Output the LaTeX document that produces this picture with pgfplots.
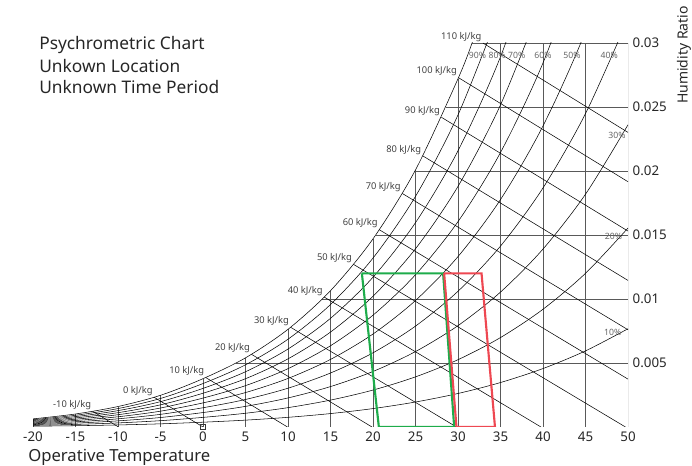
\documentclass[border=0pt]{standalone}
\usepackage{fontspec}
\setmainfont{Noto Sans}
\usepackage{pgfplots}
\pgfplotsset{compat=1.18}

\definecolor{zonegreen}{RGB}{30,172,75}
\definecolor{zonered}{RGB}{238,72,82}

\tikzset{
  hlabel/.style={anchor=south east, inner sep=1pt, font=\fontsize{7}{8}\selectfont, text=black!75},
  rhlabel/.style={inner sep=0pt, font=\fontsize{6.5}{7}\selectfont, text=black!60},
}
\pgfplotsset{grid line/.style={black!65, line width=0.5pt}}

\begin{document}
\begin{tikzpicture}
\useasboundingbox (-24.75pt,-29.25pt) rectangle (494.25pt,320.25pt);
\begin{axis}[
  at={(0,0)}, anchor=south west,
  scale only axis,
  width=446.25pt, height=288pt,
  xmin=-20, xmax=50, ymin=0, ymax=0.03,
  axis line style={draw=none},
  tick style={draw=none},
  scaled ticks=false,
  xtick={-20,-15,-10,-5,0,5,10,15,20,25,30,35,40,45,50},
  xticklabels={-20,-15,-10,-5,0,5,10,15,20,25,30,35,40,45,50},
  ytick={0.005,0.01,0.015,0.02,0.025,0.03},
  yticklabels={0.005,0.01,0.015,0.02,0.025,0.03},
  yticklabel pos=right,
  ticklabel style={font=\fontsize{10}{12}\selectfont, text=black!85},
  clip mode=individual,
  every axis plot/.append style={line width=0.4pt},
]
% temperature grid (up to saturation)
\addplot[grid line] coordinates {(-20,0) (-20,0.000635)};
\addplot[grid line] coordinates {(-15,0) (-15,0.001016)};
\addplot[grid line] coordinates {(-10,0) (-10,0.001600)};
\addplot[grid line] coordinates {(-5,0) (-5,0.002476)};
\addplot[grid line] coordinates {(0,0) (0,0.003775)};
\addplot[grid line] coordinates {(5,0) (5,0.005403)};
\addplot[grid line] coordinates {(10,0) (10,0.007632)};
\addplot[grid line] coordinates {(15,0) (15,0.010650)};
\addplot[grid line] coordinates {(20,0) (20,0.014699)};
\addplot[grid line] coordinates {(25,0) (25,0.020086)};
\addplot[grid line] coordinates {(30,0) (30,0.027210)};
\addplot[grid line] coordinates {(35,0) (35,0.03)};
\addplot[grid line] coordinates {(40,0) (40,0.03)};
\addplot[grid line] coordinates {(45,0) (45,0.03)};
\addplot[grid line] coordinates {(50,0) (50,0.03)};
% humidity ratio grid (from dew point)
\addplot[grid line] coordinates {(-20,0) (50,0)};
\addplot[grid line] coordinates {(3.90,0.005) (50,0.005)};
\addplot[grid line] coordinates {(14.04,0.01) (50,0.01)};
\addplot[grid line] coordinates {(20.31,0.015) (50,0.015)};
\addplot[grid line] coordinates {(24.93,0.02) (50,0.02)};
\addplot[grid line] coordinates {(28.59,0.025) (50,0.025)};
\addplot[grid line] coordinates {(31.63,0.03) (50,0.03)};

% relative humidity curves
\addplot[black, smooth] coordinates {(-20,0.000635) (-15,0.001016) (-10,0.001600) (-5,0.002476) (0,0.003775) (5,0.005403) (10,0.007632) (15,0.010650) (20,0.014699) (25,0.020086) (30,0.027210) (32,0.030655) (35,0.036584)};
\addplot[black, smooth] coordinates {(-20,0.000571) (-15,0.000915) (-10,0.001440) (-5,0.002228) (0,0.003395) (5,0.004859) (10,0.006860) (15,0.009569) (20,0.013198) (25,0.018019) (30,0.024382) (35,0.032733)};
\addplot[black, smooth] coordinates {(-20,0.000508) (-15,0.000813) (-10,0.001279) (-5,0.001980) (0,0.003016) (5,0.004315) (10,0.006091) (15,0.008491) (20,0.011704) (25,0.015966) (30,0.021579) (35,0.028927) (40,0.038509)};
\addplot[black, smooth] coordinates {(-20,0.000444) (-15,0.000711) (-10,0.001119) (-5,0.001731) (0,0.002637) (5,0.003772) (10,0.005323) (15,0.007417) (20,0.010217) (25,0.013925) (30,0.018800) (35,0.025165) (40,0.033437)};
\addplot[black, smooth] coordinates {(-20,0.000381) (-15,0.000609) (-10,0.000959) (-5,0.001483) (0,0.002259) (5,0.003231) (10,0.004557) (15,0.006347) (20,0.008737) (25,0.011898) (30,0.016045) (35,0.021446) (40,0.028442) (45,0.037467)};
\addplot[black, smooth] coordinates {(-20,0.000317) (-15,0.000508) (-10,0.000799) (-5,0.001236) (0,0.001882) (5,0.002690) (10,0.003793) (15,0.005280) (20,0.007264) (25,0.009883) (30,0.013314) (35,0.017770) (40,0.023522) (45,0.030912) (50,0.040373)};
\addplot[black, smooth] coordinates {(-20,0.000254) (-15,0.000406) (-10,0.000639) (-5,0.000988) (0,0.001504) (5,0.002150) (10,0.003030) (15,0.004217) (20,0.005797) (25,0.007882) (30,0.010605) (35,0.014135) (40,0.018677) (45,0.024486) (50,0.031884)};
\addplot[black, smooth] coordinates {(-20,0.000190) (-15,0.000305) (-10,0.000479) (-5,0.000741) (0,0.001128) (5,0.001611) (10,0.002270) (15,0.003157) (20,0.004338) (25,0.005893) (30,0.007920) (35,0.010541) (40,0.013903) (45,0.018186) (50,0.023611)};
\addplot[black, smooth] coordinates {(-20,0.000127) (-15,0.000203) (-10,0.000319) (-5,0.000494) (0,0.000751) (5,0.001073) (10,0.001512) (15,0.002101) (20,0.002885) (25,0.003916) (30,0.005258) (35,0.006988) (40,0.009200) (45,0.012007) (50,0.015544)};
\addplot[black, smooth] coordinates {(-20,0.0000634) (-15,0.000101) (-10,0.000160) (-5,0.000247) (0,0.000375) (5,0.000536) (10,0.000755) (15,0.001049) (20,0.001439) (25,0.001952) (30,0.002618) (35,0.003474) (40,0.004566) (45,0.005946) (50,0.007676)};

% enthalpy lines
\addplot[black] coordinates {(-12.98,0.001224) (-9.94,0)};
\addplot[black] coordinates {(-5.75,0.002323) (0,0)};
\addplot[black] coordinates {(0.32,0.003866) (9.94,0)};
\addplot[black] coordinates {(5.70,0.005680) (19.88,0)};
\addplot[black] coordinates {(10.30,0.007792) (29.82,0)};
\addplot[black] coordinates {(14.26,0.010150) (39.76,0)};
\addplot[black] coordinates {(17.71,0.012704) (49.70,0)};
\addplot[black] coordinates {(20.74,0.015409) (50,0.003739)};
\addplot[black] coordinates {(23.44,0.018247) (50,0.007595)};
\addplot[black] coordinates {(25.86,0.021180) (50,0.011450)};
\addplot[black] coordinates {(28.05,0.024197) (50,0.015305)};
\addplot[black] coordinates {(30.05,0.027294) (50,0.019160)};
\addplot[black] coordinates {(32.93,0.030000) (50,0.023015)};

% comfort polygons
\addplot[zonegreen, line width=1.6pt] coordinates {(18.69,0.012) (28.25,0.012) (29.55,0) (20.69,0) (18.69,0.012)};
\addplot[zonered, line width=1.6pt] coordinates {(28.37,0.012) (32.77,0.012) (34.35,0) (29.82,0) (28.37,0.012)};

\addplot[only marks, mark=square, mark size=2pt, black!80, mark options={line width=0.5pt}] coordinates {(0,0)};

% enthalpy labels
\node[hlabel] at (axis cs:-12.98,0.001224) {-10 kJ/kg};
\node[hlabel] at (axis cs:-5.75,0.002323) {0 kJ/kg};
\node[hlabel] at (axis cs:0.32,0.003866) {10 kJ/kg};
\node[hlabel] at (axis cs:5.70,0.005680) {20 kJ/kg};
\node[hlabel] at (axis cs:10.30,0.007792) {30 kJ/kg};
\node[hlabel] at (axis cs:14.26,0.010150) {40 kJ/kg};
\node[hlabel] at (axis cs:17.71,0.012704) {50 kJ/kg};
\node[hlabel] at (axis cs:20.74,0.015409) {60 kJ/kg};
\node[hlabel] at (axis cs:23.44,0.018247) {70 kJ/kg};
\node[hlabel] at (axis cs:25.86,0.021180) {80 kJ/kg};
\node[hlabel] at (axis cs:28.05,0.024197) {90 kJ/kg};
\node[hlabel] at (axis cs:30.05,0.027294) {100 kJ/kg};
\node[hlabel] at (axis cs:32.93,0.030000) {110 kJ/kg};

% relative humidity labels
\node[rhlabel] at (axis cs:32.3,0.0290) {90\%};
\node[rhlabel] at (axis cs:34.6,0.0290) {80\%};
\node[rhlabel] at (axis cs:36.9,0.0290) {70\%};
\node[rhlabel] at (axis cs:40.0,0.0290) {60\%};
\node[rhlabel] at (axis cs:43.4,0.0290) {50\%};
\node[rhlabel] at (axis cs:47.8,0.0290) {40\%};
\node[rhlabel] at (axis cs:48.7,0.0228) {30\%};
\node[rhlabel] at (axis cs:48.3,0.0149) {20\%};
\node[rhlabel] at (axis cs:48.2,0.0074) {10\%};
\end{axis}

\begin{scope}[x=0.75pt, y=-0.75pt, shift={(-24.75pt,320.25pt)}]
\node[anchor=west, inner sep=0pt, font=\fontsize{13}{15}\selectfont, text=black!85] at (39,45) {Psychrometric Chart};
\node[anchor=west, inner sep=0pt, font=\fontsize{13}{15}\selectfont, text=black!85] at (39,66.5) {Unkown Location};
\node[anchor=west, inner sep=0pt, font=\fontsize{13}{15}\selectfont, text=black!85] at (39,87) {Unknown Time Period};
\node[anchor=west, inner sep=0pt, font=\fontsize{12.5}{15}\selectfont, text=black!85] at (28,457) {Operative Temperature};
\node[rotate=90, inner sep=0pt, font=\fontsize{10.5}{12}\selectfont, text=black!85] at (684,55) {Humidity Ratio};
\end{scope}
\end{tikzpicture}
\end{document}
